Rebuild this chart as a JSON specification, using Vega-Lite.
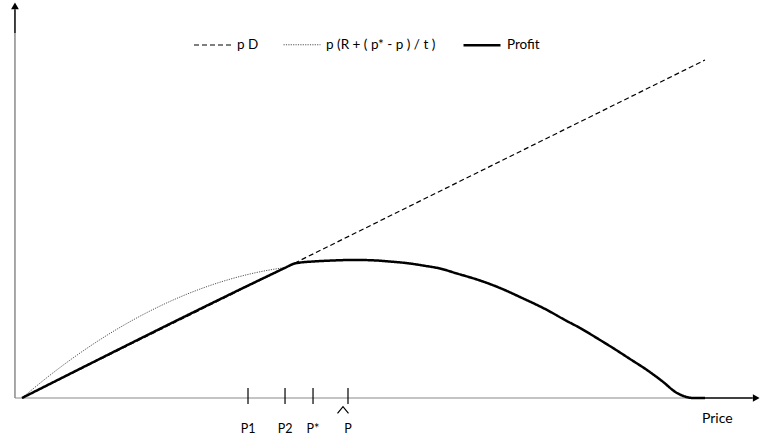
{
  "$schema": "https://vega.github.io/schema/vega-lite/v6.json",
  "width": 762,
  "height": 441,
  "autosize": {"type": "fit", "contains": "padding"},
  "padding": 0,
  "background": "white",
  "config": {"view": {"stroke": null}, "font": "Lato", "text": {"font": "Lato"}},
  "datasets": {
    "curves": [
      {"series": "p D", "x": 0, "y": 0},
      {"series": "p D", "x": 100, "y": 100},
      {"series": "p (R + ( p* - p ) / t )", "x": 0, "y": 0},
      {"series": "p (R + ( p* - p ) / t )", "x": 4.83, "y": 7.9},
      {"series": "p (R + ( p* - p ) / t )", "x": 9.66, "y": 14.92},
      {"series": "p (R + ( p* - p ) / t )", "x": 14.64, "y": 21.24},
      {"series": "p (R + ( p* - p ) / t )", "x": 19.47, "y": 26.48},
      {"series": "p (R + ( p* - p ) / t )", "x": 24.3, "y": 30.85},
      {"series": "p (R + ( p* - p ) / t )", "x": 29.28, "y": 34.44},
      {"series": "p (R + ( p* - p ) / t )", "x": 34.11, "y": 37.03},
      {"series": "p (R + ( p* - p ) / t )", "x": 38.65, "y": 38.67},
      {"series": "Profit", "x": 0, "y": 0},
      {"series": "Profit", "x": 38.65, "y": 38.65},
      {"series": "Profit", "x": 39.68, "y": 39.64},
      {"series": "Profit", "x": 40.7, "y": 40.06},
      {"series": "Profit", "x": 42.61, "y": 40.38},
      {"series": "Profit", "x": 45.1, "y": 40.65},
      {"series": "Profit", "x": 47.29, "y": 40.8},
      {"series": "Profit", "x": 49.05, "y": 40.83},
      {"series": "Profit", "x": 50.95, "y": 40.77},
      {"series": "Profit", "x": 53.88, "y": 40.38},
      {"series": "Profit", "x": 56.81, "y": 39.79},
      {"series": "Profit", "x": 58.71, "y": 39.2},
      {"series": "Profit", "x": 61.2, "y": 38.31},
      {"series": "Profit", "x": 63.69, "y": 36.83},
      {"series": "Profit", "x": 67.06, "y": 34.76},
      {"series": "Profit", "x": 69.99, "y": 32.54},
      {"series": "Profit", "x": 72.91, "y": 29.88},
      {"series": "Profit", "x": 76.87, "y": 26.04},
      {"series": "Profit", "x": 79.5, "y": 23.08},
      {"series": "Profit", "x": 81.7, "y": 20.71},
      {"series": "Profit", "x": 84.63, "y": 17.16},
      {"series": "Profit", "x": 86.53, "y": 14.79},
      {"series": "Profit", "x": 89.02, "y": 11.54},
      {"series": "Profit", "x": 91.51, "y": 8.28},
      {"series": "Profit", "x": 93.7, "y": 5.03},
      {"series": "Profit", "x": 95.9, "y": 1.48},
      {"series": "Profit", "x": 97.07, "y": 0.44},
      {"series": "Profit", "x": 98.24, "y": 0},
      {"series": "Profit", "x": 100, "y": 0}
    ],
    "prices": [
      {"label": "P1", "price": 33.09},
      {"label": "P2", "price": 38.51},
      {"label": "P*", "price": 42.61},
      {"label": "P", "price": 47.73}
    ]
  },
  "layer": [
    {
      "data": {"values": [{}]},
      "mark": {"type": "rule", "color": "#8a8a8a", "strokeWidth": 1.2},
      "encoding": {
        "x": {"datum": -1.03, "type": "quantitative", "scale": {"domain": [-3.221, 108.346], "nice": false, "zero": false}, "axis": null},
        "y": {"datum": 0, "type": "quantitative", "scale": {"domain": [-12.722, 117.751], "nice": false, "zero": false}, "axis": null},
        "x2": {"datum": 100}
      }
    },
    {
      "data": {"values": [{}]},
      "mark": {"type": "rule", "color": "#8a8a8a", "strokeWidth": 1.5},
      "encoding": {
        "x": {"datum": -1.03, "type": "quantitative"},
        "y": {"datum": 0, "type": "quantitative"},
        "y2": {"datum": 108}
      }
    },
    {
      "data": {"values": [{}]},
      "mark": {"type": "rule", "color": "black", "strokeWidth": 1.5},
      "encoding": {
        "x": {"datum": -1.03, "type": "quantitative"},
        "y": {"datum": 108, "type": "quantitative"},
        "y2": {"datum": 115}
      }
    },
    {
      "data": {"values": [{}]},
      "mark": {"type": "rule", "color": "black", "strokeWidth": 1.5},
      "encoding": {
        "x": {"datum": 98.2, "type": "quantitative"},
        "x2": {"datum": 107},
        "y": {"datum": 0, "type": "quantitative"}
      }
    },
    {
      "data": {"values": [{}]},
      "mark": {"type": "point", "shape": "triangle-right", "filled": true, "color": "black", "size": 60, "opacity": 1},
      "encoding": {
        "x": {"datum": 107.5, "type": "quantitative"},
        "y": {"datum": 0, "type": "quantitative"}
      }
    },
    {
      "data": {"values": [{}]},
      "mark": {"type": "point", "shape": "triangle-up", "filled": true, "color": "black", "size": 60, "opacity": 1},
      "encoding": {
        "x": {"datum": -1.03, "type": "quantitative"},
        "y": {"datum": 116.0, "type": "quantitative"}
      }
    },
    {
      "data": {"name": "curves"},
      "mark": {"type": "line", "interpolate": "monotone"},
      "encoding": {
        "x": {"field": "x", "type": "quantitative"},
        "y": {"field": "y", "type": "quantitative"},
        "color": {
          "field": "series", "type": "nominal",
          "scale": {"domain": ["p D", "p (R + ( p* - p ) / t )", "Profit"], "range": ["black", "#555555", "black"]},
          "legend": {
            "orient": "none", "legendX": 193, "legendY": 25, "direction": "horizontal", "title": null,
            "symbolType": "stroke", "symbolSize": 1369, "labelFont": "Lato", "labelFontSize": 13.5,
            "labelColor": "black", "labelOffset": 5, "columnPadding": 22, "padding": 0, "offset": 0
          }
        },
        "strokeDash": {
          "field": "series", "type": "nominal",
          "scale": {"domain": ["p D", "p (R + ( p* - p ) / t )", "Profit"], "range": [[5, 3], [1.2, 1.2], [1, 0]]}
        },
        "strokeWidth": {
          "field": "series", "type": "nominal",
          "scale": {"type": "ordinal", "domain": ["p D", "p (R + ( p* - p ) / t )", "Profit"], "range": [1.2, 1, 2.5]}
        }
      }
    },
    {
      "data": {"name": "prices"},
      "mark": {"type": "rule", "color": "black", "strokeWidth": 1.2},
      "encoding": {
        "x": {"field": "price", "type": "quantitative"},
        "y": {"datum": -1.78, "type": "quantitative"},
        "y2": {"datum": 2.96}
      }
    },
    {
      "data": {"name": "prices"},
      "mark": {"type": "text", "fontSize": 12.5, "baseline": "alphabetic", "align": "center", "color": "black"},
      "encoding": {
        "x": {"field": "price", "type": "quantitative"},
        "y": {"datum": -10.36, "type": "quantitative"},
        "text": {"field": "label"}
      }
    },
    {
      "data": {"name": "prices"},
      "transform": [{"filter": "datum.label === 'P'"}],
      "mark": {"type": "point", "shape": "M-1,0.6L0,-0.6L1,0.6", "filled": false, "color": "black", "strokeWidth": 1.2, "size": 121, "opacity": 1, "xOffset": -5},
      "encoding": {
        "x": {"field": "price", "type": "quantitative"},
        "y": {"datum": -3.55, "type": "quantitative"}
      }
    },
    {
      "data": {"values": [{}]},
      "mark": {"type": "text", "fontSize": 14, "baseline": "alphabetic", "align": "left", "color": "black"},
      "encoding": {
        "x": {"datum": 99.56, "type": "quantitative"},
        "y": {"datum": -7.4, "type": "quantitative"},
        "text": {"value": "Price"}
      }
    }
  ]
}
